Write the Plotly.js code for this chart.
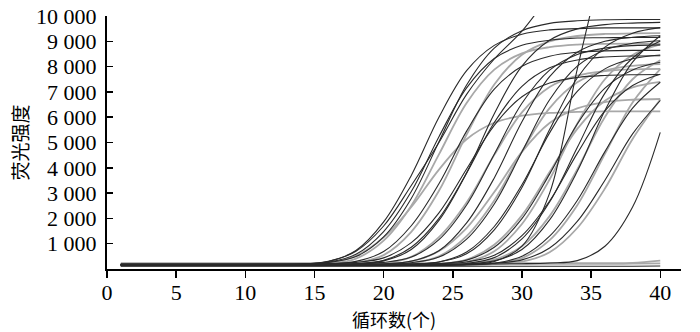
<!DOCTYPE html>
<html>
<head>
<meta charset="utf-8">
<script src="https://cdn.plot.ly/plotly-3.0.1.min.js"></script>
<style>html,body{margin:0;padding:0;background:#fff;}#chart{width:700px;height:332px;}</style>
</head>
<body>
<div id="chart"></div>
<script>
// Cycle numbers (x) shared by all curves
const CYCLES = [1, 10, 14, 16, 18, 20, 22, 24, 26, 28, 30, 32, 34, 36, 38, 40];

// Fluorescence intensity per curve
const C1  = [150,150,190,300,730,1860,3700,6000,7840,8840,9280,9450,9500,9530,9530,9530];
const C2  = [170,170,200,270,580,1480,3060,5230,7160,8320,8840,9040,9130,9140,9150,9150];
const C3  = [130,130,150,200,410,1120,2500,4530,6560,7880,8520,8770,8870,8900,8910,8910];
const C4  = [180,180,200,260,490,1270,2790,5030,7270,8730,9420,9710,9810,9850,9860,9860];
const C5  = [150,150,180,300,700,1700,3300,5000,6900,8300,9400,10800,12000,null,null,null];
const C6  = [140,140,160,240,520,1250,2450,3930,5130,5780,6060,6170,6210,6230,6230,6230];
const C7  = [160,160,170,190,300,690,1710,3370,5450,7110,8010,8410,8570,8620,8640,8640];
const C8  = [140,140,150,170,240,550,1470,3090,5310,7290,8470,9000,9210,9290,9310,9320];
const C9  = [200,200,200,220,260,440,1040,2220,3950,5680,6810,7350,7570,7650,7680,7690];
const C10 = [150,150,150,160,200,340,860,2000,3790,5790,7220,7950,8260,8380,8420,8430];
const C11 = [170,170,170,180,210,320,770,1920,3800,6140,8020,9040,9490,9660,9720,9750];
const C12 = [130,130,130,140,150,220,480,1260,2630,4510,6190,7190,7640,7820,7890,7910];
const C13 = [190,190,190,190,210,260,470,1160,2530,4540,6550,7860,8480,8730,8830,8860];
const C14 = [150,150,150,150,160,190,300,710,1620,3040,4630,5770,6350,6600,6690,6720];
const C15 = [160,160,160,160,170,200,310,720,1820,3600,5820,7600,8570,9000,9160,9220];
const C16 = [140,140,140,140,150,160,230,500,1300,2710,4640,6360,7380,7840,8030,8100];
const C17 = [180,180,180,180,180,200,250,470,1180,2570,4630,6690,8020,8660,8920,9020];
const C18 = [150,150,150,150,150,160,180,280,670,1680,3330,5380,7020,7910,8310,8460];
const C19 = [170,170,170,170,170,180,200,280,600,1550,3220,5510,7550,8770,9320,9540];
const C20 = [130,130,130,130,130,130,150,190,370,960,2120,3830,5540,6650,7180,7400];
const C21 = [160,160,160,160,160,160,170,170,180,300,900,3000,7900,12500,null,null];
const C22 = [160,160,160,160,160,160,170,210,350,860,1990,3750,5730,7150,7870,8170];
const C23 = [140,140,140,140,140,140,150,180,280,700,1780,3540,5740,7500,8460,8880];
const C24 = [190,190,190,190,190,190,200,210,280,540,1320,2690,4570,6250,7250,7700];
const C25 = [150,150,150,150,150,150,150,170,220,450,1190,2650,4800,6950,8340,9010];
const C26 = [170,170,170,170,170,170,170,180,220,370,900,2090,3940,6010,7500,8250];
const C27 = [160,160,160,160,160,160,160,170,200,320,770,1940,3860,6260,8180,9220];
const C28 = [140,140,140,140,140,140,140,140,160,230,500,1300,2710,4640,6360,7380];
const C29 = [150,150,150,150,150,150,150,150,170,220,430,1140,2520,4550,6580,7900];
const C30 = [180,180,180,180,180,180,180,180,180,230,360,830,1880,3510,5340,6660];
const C31 = [200,200,200,200,200,200,200,200,200,200,210,240,330,900,2450,5400];
const C32 = [160,160,160,160,160,160,160,160,160,190,290,660,1620,3180,5140,6700];
const N1  = [230,230,230,230,230,230,230,230,230,230,230,230,230,230,240,330];
const N2  = [110,110,110,110,110,110,110,110,110,110,110,110,110,110,110,120];
const N3  = [200,200,200,200,200,200,200,200,200,200,200,200,200,200,210,220];

const GRAY_SERIES  = [C3, C6, C8, C12, C14, C16, C20, C23, C26, C29, C32, N1, N3];
const BLACK_SERIES = [C1, C2, C4, C5, C7, C9, C10, C11, C13, C15, C17, C18, C19, C21, C22, C24, C25, C27, C28, C30, C31, N2];

const Y_TICKS = [1000, 2000, 3000, 4000, 5000, 6000, 7000, 8000, 9000, 10000];
const Y_TICK_TEXT = ['1 000','2 000','3 000','4 000','5 000','6 000','7 000','8 000','9 000','10 000'];
const X_TICKS = [0, 5, 10, 15, 20, 25, 30, 35, 40];

const traces = [];
GRAY_SERIES.forEach(function (ys) {
  traces.push({x: CYCLES, y: ys, type: 'scatter', mode: 'lines',
    line: {color: '#a8a8a8', width: 1.8, shape: 'spline', smoothing: 1},
    hoverinfo: 'skip', showlegend: false});
});
BLACK_SERIES.forEach(function (ys) {
  traces.push({x: CYCLES, y: ys, type: 'scatter', mode: 'lines',
    line: {color: '#2a2a2a', width: 1.1, shape: 'spline', smoothing: 1},
    hoverinfo: 'skip', showlegend: false});
});

const serif = '"Liberation Serif", "Times New Roman", serif';
const cjk = '"Noto Sans CJK SC", "Noto Sans CJK JP", sans-serif';

const layout = {
  width: 700, height: 332,
  margin: {l: 107, r: 19, t: 16, b: 63},
  paper_bgcolor: '#fff', plot_bgcolor: '#fff',
  xaxis: {
    range: [0, 41.5], tickvals: X_TICKS, ticktext: X_TICKS.map(String),
    showgrid: false, zeroline: false, showline: true, linecolor: '#000', linewidth: 2,
    ticks: 'outside', ticklen: 7, tickwidth: 1.5, tickcolor: '#000',
    ticklabelstandoff: -4,
    tickfont: {family: serif, size: 22, color: '#000'},
    title: {text: '循环数(个)', font: {family: cjk, size: 18, color: '#000'}, standoff: 10}
  },
  yaxis: {
    range: [0, 10000], tickvals: Y_TICKS, ticktext: Y_TICK_TEXT,
    showgrid: false, zeroline: false, showline: true, linecolor: '#000', linewidth: 2,
    ticks: 'inside', ticklen: 6, tickwidth: 1.5, tickcolor: '#000',
    ticklabelstandoff: 4,
    tickfont: {family: serif, size: 22, color: '#000'},
    title: {text: '荧光强度', font: {family: cjk, size: 19, color: '#000'}, standoff: 2}
  }
};

Plotly.newPlot('chart', traces, layout, {staticPlot: true, displayModeBar: false});
</script>
</body>
</html>
